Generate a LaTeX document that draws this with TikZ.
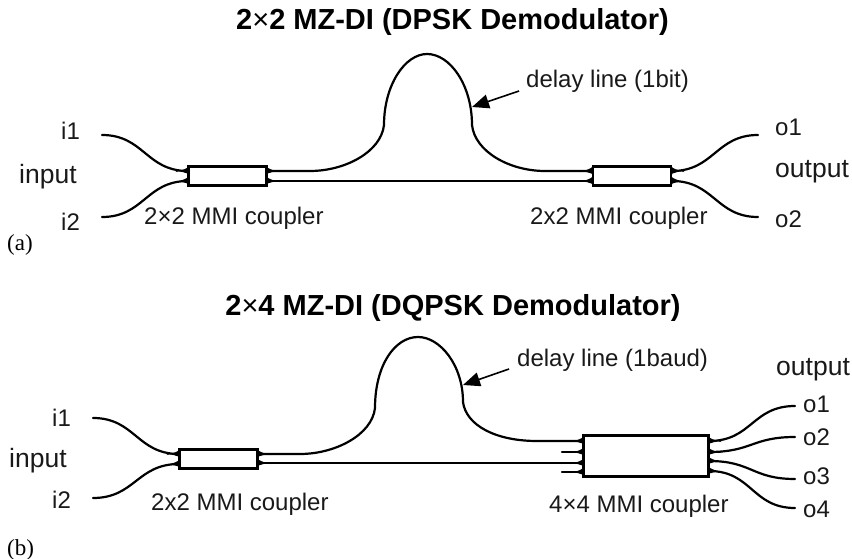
\documentclass[tikz,border=0pt]{standalone}
\usepackage{fontspec}
\setmainfont{Liberation Sans}
\newfontfamily\serifcap{Liberation Serif}
\usetikzlibrary{arrows.meta}
\newcommand{\tmb}{{\mdseries ×}}
\newcommand{\taperR}[1]{\fill (#1)++(0,-3.8) .. controls +(3,2.6) and +(6,3) .. ++(11,3.8) .. controls +(-4,0) and +(-7,1) .. ++(-11,3.8) -- cycle;}
\newcommand{\taperL}[1]{\fill (#1)++(0,-3.8) .. controls +(-3,2.6) and +(-6,3) .. ++(-11,3.8) .. controls +(4,0) and +(7,1) .. ++(11,3.8) -- cycle;}
\tikzset{
  wg/.style={line width=2.2pt,line cap=round},
  mmi/.style={draw,line width=2.2pt,fill=white,inner sep=0pt},
  lab/.style={anchor=base west,inner sep=0pt,font=\fontsize{24}{24}\selectfont,text=black!90},
  sidelab/.style={anchor=base west,inner sep=0pt,font=\fontsize{26.5}{26.5}\selectfont,text=black!90},
  ttl/.style={anchor=base,inner sep=0pt,font=\fontsize{29}{29}\selectfont\bfseries},
  figcap/.style={anchor=base west,inner sep=0pt,font=\fontsize{23}{23}\selectfont\serifcap},
  pointer/.style={line width=1.6pt,-{Triangle[length=17pt,width=14pt]}}
}
\begin{document}
\begin{tikzpicture}[x=1pt,y=-1pt]
\useasboundingbox (0,0) rectangle (852,559);
% ---- panel (a)
\node[ttl] (t1) at (452.5,30) {2\tmb 2 MZ-DI (DPSK Demodulator)};
\coordinate (ai1) at (102,135); \coordinate (ai2) at (102,217);
\coordinate (ao1) at (758,135); \coordinate (ao2) at (758,217);
\coordinate (al1) at (188,171); \coordinate (al2) at (188,181);
\coordinate (am1) at (267,171); \coordinate (am2) at (267,181);
\coordinate (ar1) at (592,171); \coordinate (ar2) at (592,181);
\coordinate (as1) at (672,171); \coordinate (as2) at (672,181);
\draw[wg] (ai1) .. controls +(42,0) and +(-42,0) .. (al1);
\draw[wg] (ai2) .. controls +(42,0) and +(-42,0) .. (al2);
\draw[wg] (as1) .. controls +(42,0) and +(-42,0) .. (ao1);
\draw[wg] (as2) .. controls +(42,0) and +(-42,0) .. (ao2);
\draw[wg] (am2) -- (ar2);
\coordinate (atop) at (427,54);
\draw[wg] (am1) -- (310,171) .. controls (345,171) and (381,152) .. (384,125)
  .. controls (384,85) and (405,54) .. (atop)
  .. controls (450,54) and (472,85) .. (472,125)
  .. controls (475,152) and (510,171) .. (545,171) -- (ar1);
\taperR{am1}\taperR{am2}\taperL{ar1}\taperL{ar2}\taperL{al1}\taperL{al2}\taperR{as1}\taperR{as2}
\node[mmi,minimum width=78pt,minimum height=19pt] (a1) at (227.5,176) {};
\node[mmi,minimum width=78pt,minimum height=19pt] (a2) at (632,176) {};
\coordinate (ad) at (472,107);
\node[lab] (dl1) at (526,88) {delay line (1bit)};
\draw[pointer] (519,91) -- (ad);
\node[lab] (i1a) at (61,140) {i1};
\node[sidelab] (ina) at (19,183) {input};
\node[lab] (i2a) at (61,230) {i2};
\node[lab] (o1a) at (775,136) {o1};
\node[sidelab] (oua) at (775,178) {output};
\node[lab] (o2a) at (775,228) {o2};
\node[lab] (ca1) at (144,225) {2×2 MMI coupler};
\node[lab] (ca2) at (530,224) {2x2 MMI coupler};
\node[figcap] (capa) at (7,250) {(a)};
% ---- panel (b)
\node[ttl] (t2) at (453,315) {2\tmb 4 MZ-DI (DQPSK Demodulator)};
\coordinate (bi1) at (93,418); \coordinate (bi2) at (93,498);
\coordinate (bl1) at (179,454); \coordinate (bl2) at (179,464);
\coordinate (bm1) at (258,454); \coordinate (bm2) at (258,463);
\coordinate (bp1) at (583,441); \coordinate (bp2) at (583,452);
\coordinate (bp3) at (583,463); \coordinate (bp4) at (583,472);
\coordinate (bq1) at (709,441); \coordinate (bq2) at (709,452);
\coordinate (bq3) at (709,461); \coordinate (bq4) at (709,471);
\coordinate (bs2) at (562,452); \coordinate (bs4) at (562,472);
\coordinate (bo1) at (795,406); \coordinate (bo2) at (795,437);
\coordinate (bo3) at (795,479); \coordinate (bo4) at (795,508);
\draw[wg] (bi1) .. controls +(42,0) and +(-42,0) .. (bl1);
\draw[wg] (bi2) .. controls +(42,0) and +(-42,0) .. (bl2);
\draw[wg] (bm2) -- (bp3);
\draw[wg] (bs2) -- (bp2);
\draw[wg] (bs4) -- (bp4);
\coordinate (btop) at (418,337);
\draw[wg] (bm1) -- (300,454) .. controls (335,454) and (372,435) .. (375,408)
  .. controls (375,365) and (395,337) .. (btop)
  .. controls (440,337) and (463,365) .. (463,402)
  .. controls (466,425) and (495,441) .. (537,441) -- (bp1);
\draw[wg] (bq1) .. controls +(43,0) and +(-43,0) .. (bo1);
\draw[wg] (bq2) .. controls +(43,0) and +(-43,0) .. (bo2);
\draw[wg] (bq3) .. controls +(43,0) and +(-43,0) .. (bo3);
\draw[wg] (bq4) .. controls +(43,0) and +(-43,0) .. (bo4);
\taperR{bm1}\taperR{bm2}\taperL{bl1}\taperL{bl2}
\taperL{bp1}\taperL{bp2}\taperL{bp3}\taperL{bp4}
\taperR{bq1}\taperR{bq2}\taperR{bq3}\taperR{bq4}
\node[mmi,minimum width=125pt,minimum height=41pt] (b2) at (646,456) {};
\node[mmi,minimum width=78pt,minimum height=19pt] (b1) at (218.5,459) {};
\coordinate (bd) at (463,385);
\node[lab] (dl2) at (517,366) {delay line (1baud)};
\draw[pointer] (509,369) -- (bd);
\node[lab] (i1b) at (52,426) {i1};
\node[sidelab] (inb) at (9,467) {input};
\node[lab] (i2b) at (52,508) {i2};
\node[sidelab] (oub) at (776,375) {output};
\node[lab] (o1b) at (803,412) {o1};
\node[lab] (o2b) at (803,445) {o2};
\node[lab] (o3b) at (803,484) {o3};
\node[lab] (o4b) at (803,517) {o4};
\node[lab] (cb1) at (151,510) {2x2 MMI coupler};
\node[lab] (cb2) at (549,512) {4×4 MMI coupler};
\node[figcap] (capb) at (7,555) {(b)};
\end{tikzpicture}
\end{document}
